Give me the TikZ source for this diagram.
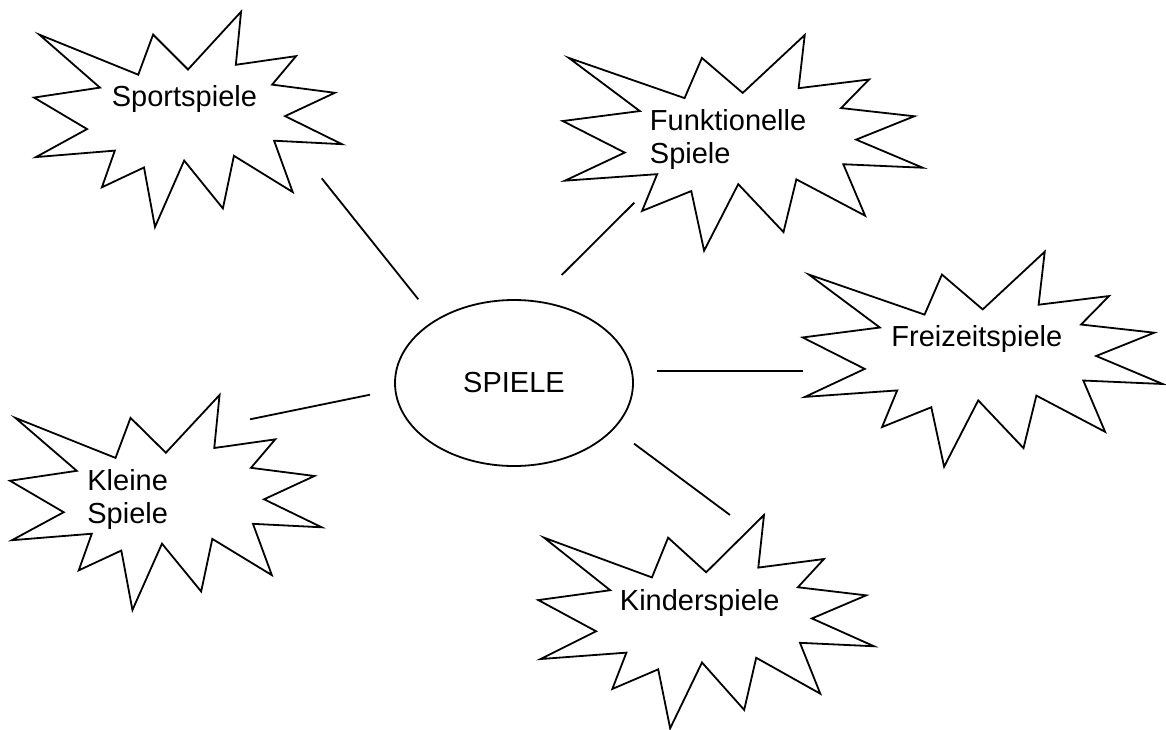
\documentclass[tikz,border=0pt]{standalone}
\usepackage{fontspec}
\setmainfont{Liberation Sans}
\usetikzlibrary{shapes.geometric}

\tikzset{
  burst/.style={draw, line width=0.9pt},
  word/.style={font=\fontsize{14.5}{16.6}\selectfont, inner sep=0pt, align=left, anchor=base west},
  connector/.style={line width=0.9pt}
}

% outline of one explosion in the unit square, y going down
\def\burstpath{(0.5,0.2685) -- (0.6723,0) -- (0.6553,0.2465) -- (0.8509,0.2063)
  -- (0.7732,0.3387) -- (0.9767,0.3767) -- (0.8151,0.4850) -- (1,0.6153)
  -- (0.7795,0.5992) -- (0.8400,0.8377) -- (0.6491,0.6693) -- (0.6133,0.9137)
  -- (0.4876,0.6914) -- (0.3928,1) -- (0.3572,0.7235) -- (0.2205,0.8156)
  -- (0.2624,0.6452) -- (0.0063,0.6753) -- (0.1723,0.5451) -- (0,0.3988)
  -- (0.2142,0.3526) -- (0.0171,0.1063) -- (0.3385,0.2926) -- (0.3867,0.1063) -- cycle}

\begin{document}
\begin{tikzpicture}[x=0.5pt, y=-0.5pt]
  \useasboundingbox (0,0) rectangle (1166,729);

  % explosions
  \foreach \x/\y/\w/\h in {34/11.7/308/215.3, 562.7/35/360/215.7, 802.7/251.7/360/215,
                           10/395/311.7/215, 538.3/515/335.7/213.3}
    \draw[burst, shift={(\x,\y)}, xscale=\w, yscale=\h] \burstpath;

  % centre
  \node[ellipse, draw, line width=0.9pt, minimum width=119pt, minimum height=83pt,
        inner sep=0pt, font=\fontsize{14.5}{16.6}\selectfont] (spiele) at (514,383) {SPIELE};

  % texts (two-line nodes sit on the baseline of their last line)
  \node[word] (sport) at (111.5,106.5) {Sportspiele};
  \node[word] (funk) at (649.5,163.3) {Funktionelle\\Spiele};
  \node[word] (frei) at (891,346) {Freizeitspiele};
  \node[word] (klein) at (87,523.3) {Kleine\\Spiele};
  \node[word] (kind) at (619.5,610) {Kinderspiele};

  % connectors
  \coordinate (sport-a) at (418.3,299.3);  \coordinate (sport-b) at (321.7,178.3);
  \coordinate (funk-a) at (561.7,275);     \coordinate (funk-b) at (634.3,202.7);
  \coordinate (frei-a) at (657.3,371);     \coordinate (frei-b) at (802.7,371);
  \coordinate (klein-a) at (370,394.7);    \coordinate (klein-b) at (250,419.3);
  \coordinate (kind-a) at (634,443.6);     \coordinate (kind-b) at (730,515);
  \foreach \n in {sport, funk, frei, klein, kind}
    \draw[connector] (\n-a) -- (\n-b);
\end{tikzpicture}
\end{document}
